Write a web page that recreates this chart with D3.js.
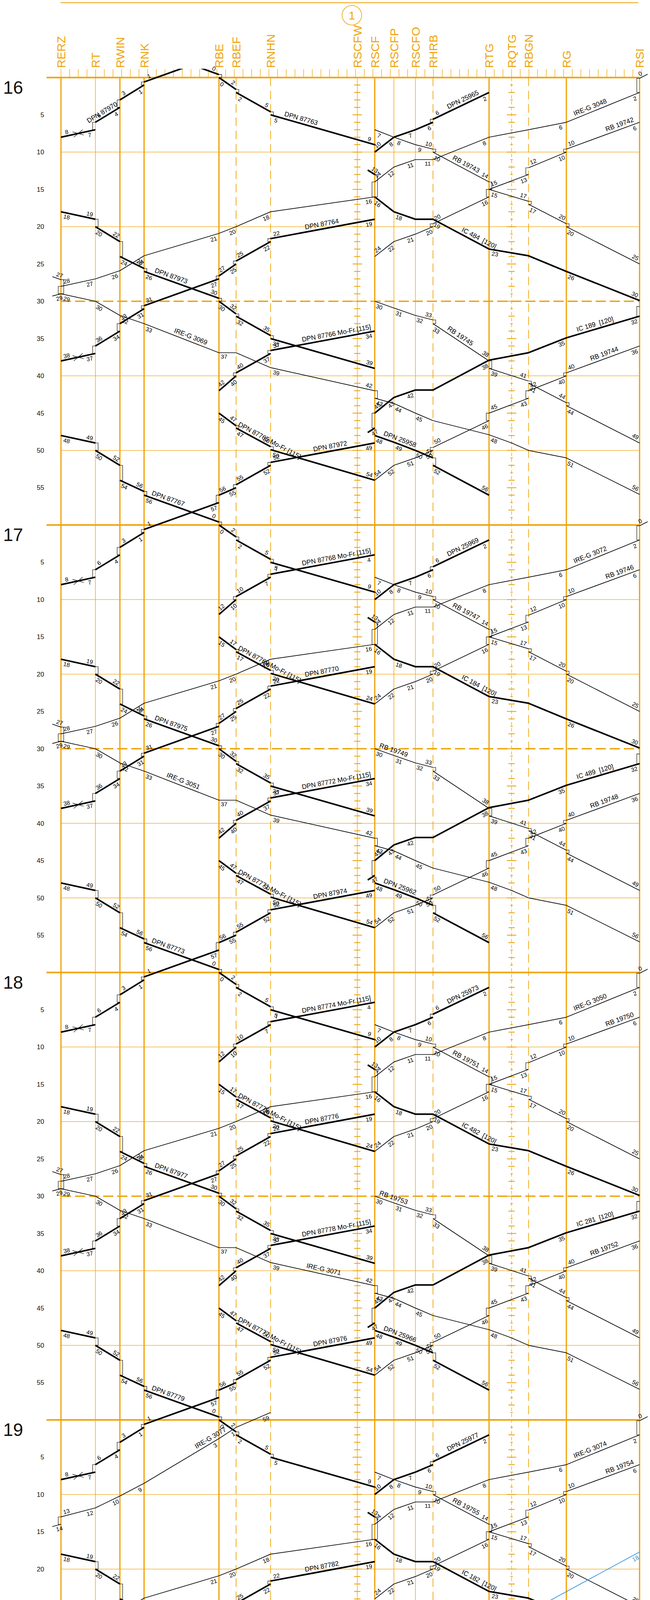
<!DOCTYPE html>
<html>
<head>
<meta charset="utf-8">
<script src="https://cdn.jsdelivr.net/npm/d3@7/dist/d3.min.js"></script>
<style>
  html, body { margin: 0; background: #fff; }
  svg { display: block; }
  text { font-family: "Liberation Sans", Arial, sans-serif; }
</style>
</head>
<body>
<div id="chart"></div>
<script>
// ---- stations (km along the line) ----
const stationNames = ["RERZ","RT","RWIN","RNK","RBE","RBEF","RNHN","RSCFW","RSCF","RSCFP","RSCFO","RHRB","RTG","RQTG","RBGN","RG","RSI"];
const stationKm    = [0, 3.97, 6.80, 9.59, 18.23, 20.21, 24.19, 34.20, 36.21, 38.42, 40.90, 42.93, 49.40, 52.00, 53.96, 58.32, 66.77];
const stationKind  = ["main","minor","main","main","main","dash","dash","wtick","main","minor","minor","dash","main","qtick","dash","main","main"];
// points just off the drawn stations (line continues beyond)
const extraKm = {LX: -1.0, RX: 67.7, BR: 35.4};

// ---- time axis ----
const hours = [15, 16, 17, 18, 19];
const hourLabels = ["16", "17", "18", "19", "20"];
const minuteTicks = [5, 10, 15, 20, 25, 30, 35, 40, 45, 50, 55];

// ---- train paths: [station, minute after the hour, (0 = no minute label)] ----
const D48R = [["RERZ",48],["RT",49],["RT",50],["RWIN",52],["RWIN",54],["RNK",55.5],["RNK",56],["RBE",59.6],["RBE",60],["RBEF",61.6],["RBEF",62],["RNHN",64.6],["RNHN",65],["RSCF",69]];
const D49L = [["RSCF",49],["RNHN",51.6],["RNHN",52],["RBEF",54.6],["RBEF",55],["RBE",56],["RBE",57],["RNK",60.6],["RNK",61],["RWIN",63],["RWIN",64],["RT",66],["RT",67],["RERZ",68]];
const D18R = [["RERZ",18],["RT",19],["RT",20],["RWIN",22],["RWIN",24],["RNK",25.6],["RNK",26],["RBE",29.6],["RBE",30],["RBEF",31.7],["RBEF",32],["RNHN",34.6],["RNHN",35],["RSCF",39]];
const D19L = [["RSCF",19],["RNHN",21.6],["RNHN",22],["RBEF",24.6],["RBEF",25],["RBE",26.6],["RBE",27],["RNK",30.6],["RNK",31],["RWIN",33],["RWIN",34],["RT",36],["RT",37],["RERZ",38]];
const D34L = [["RSCF",34],["RNHN",36.6],["RNHN",37],["RBEF",39.6],["RBEF",40],["RBE",42]];
const D45R = [["RBE",45],["RBEF",46.7],["RBEF",47],["RNHN",49.5],["RNHN",49.9],["RSCF",54]];
const D04L = [["RSCF",4],["RNHN",6.6],["RNHN",7],["RBEF",9.6],["RBEF",10],["RBE",12]];
const D15R = [["RBE",15],["RBEF",16.7],["RBEF",17],["RNHN",19.5],["RNHN",19.9],["RSCF",24]];
const I48L = [["RX",-0.45,0],["RSI",0.1],["RSI",2],["RG",6],["RBGN",7,0],["RTG",8],["RHRB",11],["RSCFO",11],["RSCFP",12],["RSCF",14],["RSCF",16],["RNHN",18],["RBEF",20],["RBE",20.9],["RNK",23.9],["RWIN",25.9],["RT",27],["RERZ",28],["RERZ",29],["LX",29.3,0]];
const I69R = [["LX",26.7,0],["RERZ",27.1],["RERZ",29],["RT",30],["RWIN",31.9],["RNK",33],["RBE",36.9],["RBEF",36.9,0],["RNHN",38.9],["RSCF",42],["RSCF",43],["RSCFP",43.7],["RSCFO",45],["RHRB",46,0],["RTG",47.9],["RQTG",49,0],["RBGN",50,0],["RG",51],["RSI",55.9]];
const R42L = [["RSI",6],["RG",9.6],["RG",10],["RBGN",12.1],["RBGN",13],["RTG",15],["RTG",16],["RHRB",19.6],["RHRB",20],["RSCFO",21],["RSCFP",22],["RSCF",24]];
const R43R = [["RSCF",7],["RSCFP",8],["RSCFO",9],["RHRB",9.6],["RHRB",10],["RTG",14],["RTG",15],["RBGN",16.6],["RBGN",17],["RG",19.6],["RG",20],["RSI",25]];
const R44L = [["RSI",36],["RG",39.6],["RG",40],["RBGN",42],["RBGN",43],["RTG",45],["RTG",46],["RHRB",49.6],["RHRB",50],["RSCFO",51],["RSCFP",52],["RSCF",54]];
const R45R = [["RSCF",30],["RSCFP",30.9],["RSCFO",31.9],["RHRB",32.5],["RHRB",33],["RTG",38],["RTG",39],["RBGN",40.7],["RBGN",41],["RG",43.6],["RG",44],["RSI",49]];
const IC484 = [["BR",12.4,0],["RSCF",13],["RSCF",16],["RSCFP",18],["RSCFO",19,0],["RHRB",19],["RTG",23],["RBGN",23.9,0],["RG",26],["RSI",29.9]];
const IC189 = [["RSI",30.7],["RSI",32],["RG",34.9],["RBGN",36.9,0],["RTG",37.9],["RHRB",41.9,0],["RSCFO",41.9],["RSCFP",42.9],["RSCF",45],["RSCF",47],["BR",47.6,0]];
const D65L = [["RTG",2],["RHRB",5.6],["RHRB",6],["RSCFO",7],["RSCFP",8],["RSCF",10]];
const D58R = [["RSCF",48],["RSCFP",48.9],["RSCFO",50],["RHRB",51],["RHRB",52],["RTG",56]];
const I77L = [["RNHN",-1],["RBEF",1],["RBE",2.5],["RNK",8.5],["RWIN",10.2],["RT",11.8],["RERZ",13],["RERZ",14],["LX",14.3,0]];
const KT41935 = [["RSI",17.7],["RSCFO",34]];

// ---- train numbers per hour (15,16,17,18,19) ----
const nD48R  = [null,"DPN 87767","DPN 87773","DPN 87779","DPN 87781"];
const nD48Rb = ["DPN 87763",null,null,null,null];
const nD49L  = [null,"DPN 87972","DPN 87974","DPN 87976","DPN 87978"];
const nD49Lb = ["DPN 87970",null,null,null,null];
const nD18R  = [null,"DPN 87973","DPN 87975","DPN 87977","DPN 87979"];
const nD19L  = [null,"DPN 87764","DPN 87770","DPN 87776","DPN 87782"];
const nD34L  = [null,"DPN 87766 Mo-Fr [115]","DPN 87772 Mo-Fr [115]","DPN 87778 Mo-Fr [115]",null];
const nD45R  = [null,"DPN 87765 Mo-Fr [115]","DPN 87771 Mo-Fr [115]","DPN 87777 Mo-Fr [115]",null];
const nD04L  = [null,null,"DPN 87768 Mo-Fr [115]","DPN 87774 Mo-Fr [115]",null];
const nD15R  = [null,null,"DPN 87769 Mo-Fr [115]","DPN 87775 Mo-Fr [115]",null];
const nI48L  = [null,"IRE-G 3048","IRE-G 3072","IRE-G 3050","IRE-G 3074"];
const nI69R  = [null,"IRE-G 3069","IRE-G 3051","IRE-G 3071","IRE-G 3053"];
const nR42L  = [null,"RB 19742","RB 19746","RB 19750","RB 19754"];
const nR43R  = [null,"RB 19743","RB 19747","RB 19751","RB 19755"];
const nR44L  = [null,"RB 19744","RB 19748","RB 19752","RB 19756"];
const nR45R  = [null,"RB 19745","RB 19749","RB 19753","RB 19757"];
const nIC484 = [null,"IC 484\u00a0 [120]","IC 184\u00a0 [120]","IC 482\u00a0 [120]","IC 182\u00a0 [120]"];
const nIC189 = [null,"IC 189\u00a0 [120]","IC 489\u00a0 [120]","IC 281\u00a0 [120]","IC 381\u00a0 [120]"];
const nD65L  = [null,"DPN 25965","DPN 25969","DPN 25973","DPN 25977"];
const nD58R  = [null,"DPN 25958","DPN 25962","DPN 25966","DPN 25970"];
const nI77L  = [null,null,null,null,"IRE-G 3077"];
const nKT    = [null,null,null,null,"KT 41935 Mo-Do"];

const slots = [
  {pts: D48R, heavy: true, labels: [{i: 6, f: 0.3, names: nD48R}, {i: 12, f: 0.28, names: nD48Rb}]},
  {pts: D49L, heavy: true, cross: 12, labels: [{i: 0, f: 0.42, names: nD49L}, {i: 10, f: 0.62, names: nD49Lb}]},
  {pts: D18R, heavy: true, labels: [{i: 6, f: 0.34, names: nD18R}]},
  {pts: D19L, heavy: true, cross: 12, labels: [{i: 0, f: 0.5, names: nD19L}]},
  {pts: D34L, heavy: true, runs: [0,1,1,1,0], labels: [{i: 0, f: 0.36, names: nD34L}]},
  {pts: D45R, heavy: true, runs: [0,1,1,1,0], labels: [{i: 2, f: 0.9, names: nD45R}]},
  {pts: D04L, heavy: true, runs: [0,0,1,1,0], labels: [{i: 0, f: 0.36, names: nD04L}]},
  {pts: D15R, heavy: true, runs: [0,0,1,1,0], labels: [{i: 2, f: 0.9, names: nD15R}]},
  {pts: I48L, labels: [{i: 2, f: 0.65, names: nI48L}]},
  {pts: I69R, labels: [{i: [5,5,5,8,5], f: [0.6,0.6,0.5,0.5,0.6], names: nI69R}]},
  {pts: R42L, labels: [{i: 0, f: 0.25, names: nR42L}]},
  {pts: R43R, labels: [{i: 4, f: 0.55, names: nR43R}]},
  {pts: R44L, labels: [{i: 0, f: 0.46, names: nR44L}]},
  {pts: R45R, labels: [{i: [4,4,0,0,0], f: [0.44,0.44,0.9,0.9,0.9], names: nR45R}]},
  {pts: IC484, heavy: true, labels: [{i: 5, f: 0.78, names: nIC484}]},
  {pts: IC189, heavy: true, labels: [{i: 1, f: 0.59, names: nIC189}]},
  {pts: D65L, heavy: true, labels: [{i: 0, f: 0.43, names: nD65L}]},
  {pts: D58R, heavy: true, labels: [{i: 1, f: 0.2, names: nD58R}]},
  {pts: I77L, runs: [0,0,0,0,1], labels: [{i: 2, f: 0.08, names: nI77L}]},
  {pts: KT41935, runs: [0,0,0,0,1], blue: true, labels: [{i: 0, f: 0.72, names: nKT}]}
];

// ---- drawing ----
const W = 1663, H = 4827;
const orange = "#f0a30a", ink = "#111", blue = "#2a8fe0";

const x = d3.scaleLinear().domain([0, 66.77]).range([156, 1636.3]);
const y = d3.scaleLinear().domain([0, 240]).range([198.5, 4780.5]);
const kmOf = s => (s in extraKm) ? extraKm[s] : stationKm[stationNames.indexOf(s)];
const xLeft = 119, xRight = x(66.77);
const textTop = 160, textBottom = H - 10;

const svg = d3.select("#chart").append("svg").attr("width", W).attr("height", H);
svg.append("rect").attr("width", W).attr("height", H).attr("fill", "#fff");
const defs = svg.append("defs");
defs.append("clipPath").attr("id", "clipT").append("rect")
  .attr("x", 0).attr("y", 176).attr("width", W).attr("height", H - 176);

const grid = svg.append("g");

// top rule and route circle
grid.append("line").attr("x1", 155).attr("x2", 1633).attr("y1", 7).attr("y2", 7)
  .attr("stroke", orange).attr("stroke-width", 2);
grid.append("circle").attr("cx", x(34.2) - 14).attr("cy", 39).attr("r", 25)
  .attr("fill", "none").attr("stroke", orange).attr("stroke-width", 1.6);
grid.append("text").attr("x", x(34.2) - 14).attr("y", 39).attr("dy", "0.36em")
  .attr("text-anchor", "middle").attr("font-size", 30).attr("fill", orange).text("1");

// station names
stationNames.forEach((s, i) => {
  const sx = x(stationKm[i]) + 11;
  grid.append("text").attr("x", sx).attr("y", 174)
    .attr("transform", `rotate(-90,${sx},174)`)
    .attr("font-size", 30).attr("fill", orange).text(s);
});

// km ticks
grid.selectAll(".km").data(d3.range(0, 68)).join("line")
  .attr("x1", d => x(d)).attr("x2", d => x(d)).attr("y1", 177).attr("y2", y(0))
  .attr("stroke", orange).attr("stroke-width", 1.3);

// minute grid
const totalMin = 240;
for (let m = 10; m < totalMin; m += 10) {
  if (m % 60 === 0) continue;
  const half = m % 30 === 0;
  grid.append("line").attr("x1", x(0)).attr("x2", xRight).attr("y1", y(m)).attr("y2", y(m))
    .attr("stroke", orange).attr("stroke-width", half ? 3.6 : 1.4)
    .attr("stroke-dasharray", half ? "26,10" : null);
}

// station verticals
stationNames.forEach((s, i) => {
  const k = stationKind[i], sx = x(stationKm[i]);
  const ln = grid.append("line").attr("x1", sx).attr("x2", sx).attr("y1", y(0)).attr("y2", H)
    .attr("stroke", orange);
  if (k === "main") ln.attr("stroke-width", 3.2);
  else if (k === "minor") ln.attr("stroke-width", 1.4);
  else if (k === "dash") ln.attr("stroke-width", 1.8).attr("stroke-dasharray", "22,12");
  else if (k === "wtick") ln.attr("stroke-width", 1.4);
  else ln.attr("stroke-width", 1.4).attr("stroke-dasharray", "9,6");
  if (k === "wtick" || k === "qtick") {
    const mins = d3.range(1, Math.floor(y.invert(H)) + 1);
    grid.selectAll(null).data(mins).join("line")
      .attr("x1", m => sx - (m % 5 === 0 ? 12 : (k === "qtick" && m % 2 ? 3 : 8)))
      .attr("x2", m => sx + (m % 5 === 0 ? 12 : (k === "qtick" && m % 2 ? 3 : 8)))
      .attr("y1", m => y(m)).attr("y2", m => y(m))
      .attr("stroke", orange).attr("stroke-width", 2.2);
  }
});

// hour lines
for (let m = 0; m <= totalMin; m += 60) {
  grid.append("line").attr("x1", xLeft).attr("x2", xRight).attr("y1", y(m)).attr("y2", y(m))
    .attr("stroke", orange).attr("stroke-width", 3.8);
}

// hour and minute labels
hourLabels.forEach((t, i) => {
  grid.append("text").attr("x", 8).attr("y", Math.min(y(i * 60) + 41, H - 12))
    .attr("font-size", 46).attr("fill", ink).text(t);
});
for (let h = 0; h < 4; h++) {
  minuteTicks.forEach(m => {
    grid.append("text").attr("x", 113).attr("y", y(h * 60 + m)).attr("dy", "0.35em")
      .attr("text-anchor", "end").attr("font-size", 17).attr("fill", ink).text(m);
  });
}

// ---- trains ----
const lineG = svg.append("g").attr("clip-path", "url(#clipT)");
const textG = svg.append("g");

function upright(dx, dy) {
  let a = Math.atan2(dy, dx) * 180 / Math.PI;
  if (a > 90) a -= 180;
  if (a <= -90) a += 180;
  return a;
}
function geom(a, b) {
  const dx = b.x - a.x, dy = b.y - a.y, L = Math.hypot(dx, dy);
  const ux = dx / L, uy = dy / L;
  let nx = -uy, ny = ux;
  if (ny < 0 || (ny === 0 && nx < 0)) { nx = -nx; ny = -ny; }
  return {dx, dy, L, ux, uy, nx, ny, ang: upright(dx, dy)};
}
function minuteText(t) { return String(((Math.round(t) % 60) + 60) % 60); }
function putMinute(px, py, ang, txt, col) {
  if (py < textTop || py > textBottom) return;
  textG.append("text").attr("transform", `translate(${px},${py}) rotate(${ang})`)
    .attr("text-anchor", "middle").attr("dy", "0.35em")
    .attr("font-size", 15).attr("fill", col).text(txt);
}

slots.forEach(slot => {
  const col = slot.blue ? blue : "#000";
  const sw = slot.heavy ? 4 : 1.7;
  hours.forEach((h, hi) => {
    if (slot.runs && !slot.runs[hi]) return;
    const P = slot.pts.map(p => ({
      st: p[0], t: p[1], lab: p[2] !== 0 && !(p[0] in extraKm),
      x: x(kmOf(p[0])), y: y((h - 16) * 60 + p[1])
    }));
    if (d3.max(P, p => p.y) < 176 || d3.min(P, p => p.y) > H) return;
    let d = "", pen = false;
    for (let i = 0; i < P.length - 1; i++) {
      const a = P[i], b = P[i + 1];
      if (a.st === b.st) {
        pen = false;
        let s = 1;
        if (P[i + 2]) s = Math.sign(P[i + 2].x - b.x) || 1;
        else if (P[i - 1]) s = Math.sign(a.x - P[i - 1].x) || 1;
        lineG.append("path")
          .attr("d", `M${a.x},${a.y}h${s * 7}V${b.y}h${-s * 7}`)
          .attr("fill", "none").attr("stroke", col).attr("stroke-width", 1.1);
        continue;
      }
      if (!pen) { d += `M${a.x},${a.y}`; pen = true; }
      d += `L${b.x},${b.y}`;
      const g = geom(a, b), dd = Math.min(17, g.L * 0.3), off = 10;
      if (a.lab) putMinute(a.x + g.ux * dd + g.nx * off, a.y + g.uy * dd + g.ny * off, g.ang, minuteText(a.t), col);
      const arrHere = (i + 1 === P.length - 1) || (P[i + 2] && P[i + 2].st === b.st);
      if (b.lab && arrHere) putMinute(b.x - g.ux * dd - g.nx * off, b.y - g.uy * dd - g.ny * off, g.ang, minuteText(b.t), col);
    }
    lineG.append("path").attr("d", d).attr("fill", "none").attr("stroke", col)
      .attr("stroke-width", sw).attr("stroke-linejoin", "round");

    if (slot.cross !== undefined) {
      const a = P[slot.cross], b = P[slot.cross + 1], g = geom(a, b);
      const mx = (a.x + b.x) / 2, my = (a.y + b.y) / 2;
      [g.ang + 28, g.ang - 28].forEach(an => {
        const r = an * Math.PI / 180;
        lineG.append("line").attr("x1", mx - 15 * Math.cos(r)).attr("y1", my - 15 * Math.sin(r))
          .attr("x2", mx + 15 * Math.cos(r)).attr("y2", my + 15 * Math.sin(r))
          .attr("stroke", col).attr("stroke-width", 1.1);
      });
    }

    (slot.labels || []).forEach(lb => {
      const name = lb.names[hi];
      if (!name) return;
      const i = Array.isArray(lb.i) ? lb.i[hi] : lb.i;
      const f = Array.isArray(lb.f) ? lb.f[hi] : lb.f;
      const a = P[i], b = P[i + 1], g = geom(a, b);
      const px = a.x + (b.x - a.x) * f, py = a.y + (b.y - a.y) * f;
      if (py < textTop || py > textBottom) return;
      textG.append("text").attr("transform", `translate(${px},${py}) rotate(${g.ang})`)
        .attr("y", -7).attr("text-anchor", "middle")
        .attr("font-size", 17).attr("fill", col).text(name);
    });
  });
});
</script>
</body>
</html>
